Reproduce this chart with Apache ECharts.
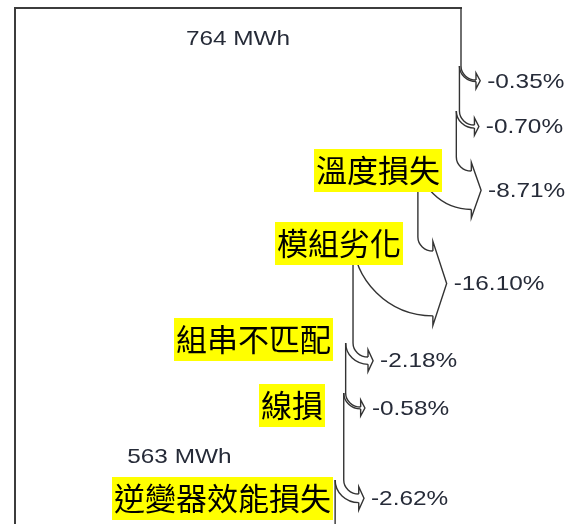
<!DOCTYPE html>
<html>
<head>
<meta charset="utf-8">
<script src="https://cdn.jsdelivr.net/npm/echarts@6/dist/echarts.min.js"></script>
<style>
  html, body { margin: 0; padding: 0; background: #ffffff; }
  #chart { width: 569px; height: 524px; }
</style>
</head>
<body>
<div id="chart"></div>
<script>
// ---- Energy flow data ----
const startEnergy = 764;                       // MWh entering the chain
const lossNames = ['', '', '溫度損失', '模組劣化', '組串不匹配', '線損', '逆變器效能損失'];
const lossPercents = [-0.35, -0.70, -8.71, -16.10, -2.18, -0.58, -2.62];
const energyLabelSteps = [0, 6];               // flow stages whose energy is printed inside the band
const energyUnit = 'MWh';

// ---- Vertical layout (y axis runs in page pixels, top to bottom) ----
const frameTop = 8;
const frameBottom = 545;
const turnY = [66, 111, 157, 237, 343, 393, 480];
const energyLabelY = [39, 457];
const nameBoxRight = [null, null, 442, 403, 333, 325, 333];
const nameBoxMidY = [null, null, 170.5, 243.5, 339.5, 405.5, 498.5];

// energy remaining after each stage
const flow = [startEnergy];
lossPercents.forEach(function (p) { flow.push(flow[flow.length - 1] * (1 + p / 100)); });

const LINE = '#333333';
const TEXT = '#262b38';
const LATIN = "'Liberation Sans', Arial, sans-serif";
const CJK = "'Noto Sans CJK TC', 'Noto Sans CJK SC', sans-serif";
const LATIN_SIZE = 21;
const LATIN_WIDEN = 1.16;                      // the value labels are set in a wide face

function fmtPct(p) { return p.toFixed(2) + '%'; }

const lossData = lossPercents.map(function (p, i) {
  return [i, flow[i], flow[i + 1], turnY[i], i === 0 ? frameTop : turnY[i - 1], p];
});

function renderLoss(params, api) {
  const i = api.value(0);
  const eIn = api.value(1), eOut = api.value(2);
  const yv = api.value(3), yPrevV = api.value(4), pct = api.value(5);
  const pIn = api.coord([eIn, yv]);
  const pOut = api.coord([eOut, yv]);
  const xo = pIn[0], xn = pOut[0], y0 = pIn[1];
  const yTop = api.coord([eIn, yPrevV])[1];
  const w = xo - xn;
  const r = 15, h = 14, k = 0.5523;
  const xb = xo + r;
  const ext = 7 + w * 0.04;
  const tip = 0.28 * (w / 2 + ext) + 2;
  const yb1 = y0 + h, yb2 = y0 + h + w;
  const rIn = r + w, hIn = h + w;
  const stroke = { fill: null, stroke: LINE, lineWidth: 1.4 };
  const children = [
    { type: 'line', shape: { x1: xo, y1: yTop, x2: xo, y2: y0 }, style: stroke },
    { type: 'path', shape: { pathData:
      'M' + xo + ' ' + y0 + ' C' + xo + ' ' + (y0 + h * k) + ' ' + (xb - r * k) + ' ' + yb1 + ' ' + xb + ' ' + yb1 },
      style: stroke },
    { type: 'path', shape: { pathData:
      'M' + xn + ' ' + y0 + ' C' + xn + ' ' + (y0 + hIn * k) + ' ' + (xb - rIn * k) + ' ' + yb2 + ' ' + xb + ' ' + yb2 },
      style: stroke },
    { type: 'polyline', shape: { points: [[xb, yb1], [xb, yb1 - ext], [xb + tip, (yb1 + yb2) / 2], [xb, yb2 + ext], [xb, yb2]] },
      style: stroke },
    { type: 'text', x: xb + tip + 7, y: (yb1 + yb2) / 2 + 1, scaleX: LATIN_WIDEN,
      style: { text: fmtPct(pct), x: 0, y: 0,
      font: LATIN_SIZE + 'px ' + LATIN, fill: TEXT, align: 'left', verticalAlign: 'middle' } }
  ];
  if (i === lossPercents.length - 1) {
    const yEnd = api.coord([eOut, frameBottom])[1];
    children.push({ type: 'line', shape: { x1: xn, y1: y0, x2: xn, y2: yEnd }, style: stroke });
  }
  return { type: 'group', children: children };
}

function renderFrame(params, api) {
  const tl = api.coord([0, frameTop]);
  const tr = api.coord([startEnergy, frameTop]);
  const bl = api.coord([0, frameBottom]);
  const st = { fill: null, stroke: '#3c3c3c', lineWidth: 2 };
  return { type: 'group', children: [
    { type: 'line', shape: { x1: tl[0], y1: tl[1], x2: tr[0] + 1, y2: tr[1] }, style: st },
    { type: 'line', shape: { x1: tl[0], y1: tl[1] - 1, x2: bl[0], y2: bl[1] }, style: st }
  ] };
}

const energyData = energyLabelSteps.map(function (s, j) { return [flow[s], energyLabelY[j]]; });
function renderEnergy(params, api) {
  const e = api.value(0);
  const p = api.coord([e / 2, api.value(1)]);
  return { type: 'text', x: p[0], y: p[1], scaleX: LATIN_WIDEN,
    style: { text: Math.round(e) + ' ' + energyUnit, x: 0, y: 0,
    font: LATIN_SIZE + 'px ' + LATIN, fill: TEXT, align: 'center', verticalAlign: 'middle' } };
}

const nameData = [];
lossNames.forEach(function (n, i) { if (n) nameData.push([i, nameBoxMidY[i]]); });
function renderName(params, api) {
  const i = api.value(0);
  const p = api.coord([0, api.value(1)]);
  return { type: 'text', style: { text: lossNames[i], x: nameBoxRight[i], y: p[1],
    font: '31px ' + CJK, fill: '#000000', align: 'right', verticalAlign: 'middle',
    backgroundColor: '#ffff00', padding: [3, 2, 3, 2], lineHeight: 37 } };
}

const chart = echarts.init(document.getElementById('chart'), null, { renderer: 'canvas' });
chart.setOption({
  animation: false,
  backgroundColor: '#ffffff',
  grid: { left: 15, right: 108, top: 0, bottom: 0 },
  xAxis: { type: 'value', min: 0, max: startEnergy, show: false },
  yAxis: { type: 'value', min: 0, max: 524, inverse: true, show: false },
  series: [
    { type: 'custom', name: 'frame', renderItem: renderFrame, data: [[0]], clip: false, z: 2 },
    { type: 'custom', name: 'losses', renderItem: renderLoss, data: lossData, clip: false, z: 3 },
    { type: 'custom', name: 'energy', renderItem: renderEnergy, data: energyData, clip: false, z: 4 },
    { type: 'custom', name: 'names', renderItem: renderName, data: nameData, clip: false, z: 10 }
  ]
});
</script>
</body>
</html>
